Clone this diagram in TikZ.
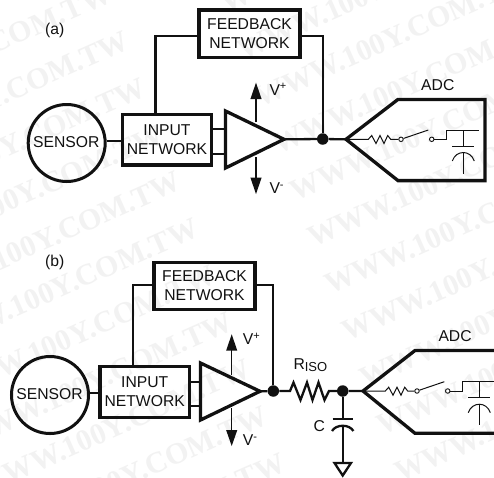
\documentclass[tikz,border=0pt]{standalone}
\usepackage{fontspec}
\setmainfont{Liberation Sans}
\newfontfamily\wmfont{Liberation Serif}
\definecolor{ink}{HTML}{111111}
\definecolor{wmgray}{HTML}{F2F2F2}
\tikzset{
  x=1pt,y=-1pt,
  thick box/.style={draw=ink,line width=3.3pt,fill=none,line join=miter},
  wire/.style={draw=ink,line width=2.3pt},
  thin wire/.style={draw=ink,line width=1pt},
  label text/.style={text=ink,font=\fontsize{15.7}{19}\selectfont,align=center,inner sep=0pt},
  sensor ring/.style={circle,draw=ink,line width=3pt,minimum size=77pt,inner sep=0pt},
  dotnode/.style={circle,fill=ink,inner sep=0pt,minimum size=11.5pt},
  hole/.style={circle,draw=ink,line width=0.9pt,fill=white,inner sep=0pt,minimum size=4.5pt},
  supply/.style={draw=ink,line width=1.5pt},
  head/.style={fill=ink,draw=none},
  wm/.style={text=wmgray,font=\wmfont\bfseries\fontsize{30}{30}\selectfont,rotate=24,inner sep=0pt},
}
\begin{document}
\begin{tikzpicture}
\useasboundingbox (0,0) rectangle (494,477);
\clip (0,0) rectangle (494,477);
\fill[white] (0,0) rectangle (494,477);
% watermark, two staggered columns
\foreach \k in {-2,...,10}{
  \node[wm,anchor=base east] (wmL\k) at ({131+17.4*\k},{48+46.9*\k}) {WWW.100Y.COM.TW};
}
\foreach \k in {-6,...,5}{
  \node[wm,anchor=base west] (wmR\k) at ({313+17.4*\k},{248+46.9*\k}) {WWW.100Y.COM.TW};
}
% ---------- (a)
\node[label text,anchor=base west] (tagA) at (45,34) {(a)};
\node[sensor ring] (sensorA) at (66.7,143) {};
\node[label text] (sensorTextA) at (66.3,142.5) {SENSOR};
\node[thick box,minimum width=89.5pt,minimum height=50.5pt,inner sep=0pt,label text] (inputA) at (167,139.7) {INPUT\\NETWORK};
\node[thick box,minimum width=101pt,minimum height=47.5pt,inner sep=0pt,label text] (fbA) at (249.5,33.7) {FEEDBACK\\NETWORK};
\coordinate (aL) at (225.5,111); \coordinate (aB) at (225.5,168); \coordinate (aT) at (284,139.3);
\node[dotnode] (dotA) at (322.7,139) {};
\coordinate (adcA) at (346,139.3);
\draw[wire] (sensorA.east |- 0,141.3) -- (inputA.west |- 0,141.3);
\draw[wire] (fbA.west |- 0,35.7) -| (155.5,114.5);
\draw[wire] (fbA.east |- 0,35.7) -| (dotA);
\draw[wire] (inputA.east |- 0,129.3) -- (aL |- 0,129.3);
\draw[wire] (inputA.east |- 0,154) -- (aL |- 0,154);
\draw[wire] (aT) -- (dotA) -- (adcA);
\draw[supply] (256,122) -- (256,98);
\draw[supply] (256,157) -- (256,179);
\fill[head] (256,82.7) -- (261.6,99) -- (250.4,99) -- cycle;
\fill[head] (256,194) -- (261.6,177.7) -- (250.4,177.7) -- cycle;
\draw[thick box] (aL) -- (aT) -- (aB) -- cycle;
\node[label text,anchor=base west] (vpA) at (269.3,95) {V\textsuperscript{+}};
\node[label text,anchor=base west] (vmA) at (269.3,193.3) {V\textsuperscript{-}};
\draw[thick box] (adcA) -- (398,99.4) -- (485,99.4) -- (485,180.6) -- (398,180.6) -- cycle;
\node[label text,anchor=base west] (adcLA) at (421,90) {ADC};
\node[hole] (h1A) at (401,139.3) {};
\node[hole] (h2A) at (431.7,139.3) {};
\draw[thin wire] (adcA) -- (368.3,139.3) -- (371.7,135.5) -- (376,143.5) -- (380,135.5) -- (384,143.5) -- (387.7,135.5) -- (390.7,139.3) -- (h1A);
\draw[thin wire] (h1A) -- (428.3,130);
\draw[thin wire] (h2A) -- (446.7,139.3) -- (446.7,130) -- (479,130);
\draw[thin wire] (463.3,130) -- (463.3,146);
\draw[thin wire] (452.3,146) -- (474.3,146);
\draw[thin wire] (452.3,161) .. controls (456,149.7) and (470.6,149.7) .. (474.3,161);
\draw[thin wire] (463.3,152.5) -- (463.3,173.5);
% ---------- (b)
\node[label text,anchor=base west] (tagB) at (45,266.5) {(b)};
\node[sensor ring] (sensorB) at (50,395) {};
\node[label text] (sensorTextB) at (49.5,394.3) {SENSOR};
\node[thick box,minimum width=89.5pt,minimum height=50.5pt,inner sep=0pt,label text] (inputB) at (144.7,392) {INPUT\\NETWORK};
\node[thick box,minimum width=101pt,minimum height=47.5pt,inner sep=0pt,label text] (fbB) at (204.5,286) {FEEDBACK\\NETWORK};
\coordinate (bL) at (200.5,363); \coordinate (bB) at (200.5,420); \coordinate (bT) at (260,391.3);
\node[dotnode] (dotB1) at (273.3,391) {};
\node[dotnode] (dotB2) at (342.7,391) {};
\coordinate (adcB) at (363,391);
\draw[wire] (sensorB.east |- 0,393.3) -- (inputB.west |- 0,393.3);
\draw[wire] (fbB.west |- 0,285.3) -| (133.3,366.7);
\draw[wire] (fbB.east |- 0,285.3) -| (dotB1);
\draw[wire] (inputB.east |- 0,381.7) -- (bL |- 0,381.7);
\draw[wire] (inputB.east |- 0,406) -- (bL |- 0,406);
\draw[wire] (bT) -- (dotB1) -- (290,391) -- (293.5,382.5) -- (300.5,400) -- (307,382.5) -- (312.5,400) -- (318.5,382.5) -- (324.5,400) -- (329,391) -- (dotB2) -- (adcB);
\draw[supply] (231.7,375) -- (231.7,350);
\draw[supply] (231.7,408) -- (231.7,431);
\fill[head] (231.7,334.3) -- (237.3,350.7) -- (226.1,350.7) -- cycle;
\fill[head] (231.7,446) -- (237.3,430) -- (226.1,430) -- cycle;
\draw[thick box] (bL) -- (bT) -- (bB) -- cycle;
\node[label text,anchor=base west] (vpB) at (242.7,344.5) {V\textsuperscript{+}};
\node[label text,anchor=base west] (vmB) at (242.7,445.7) {V\textsuperscript{-}};
\node[label text,anchor=base west] (riso) at (293.3,369.3) {R{\fontsize{13}{13}\selectfont\raisebox{-2.4pt}{ISO}}};
\node[label text,anchor=base west] (cap) at (313.3,431) {C};
\coordinate (gT) at (342.7,463);
\draw[wire] (dotB2) -- (342.7,419.3);
\draw[wire] (332.5,419.3) -- (353,419.3);
\draw[wire] (332,431) .. controls (336,424) and (349.4,424) .. (353.4,431);
\draw[wire] (342.7,426) -- (gT);
\draw[wire,line join=miter] (334.5,463) -- (351,463) -- (342.7,475.5) -- cycle;
\draw[thick box] (500,350.5) -- (415,350.5) -- (adcB) -- (415,433.3) -- (500,433.3);
\node[label text,anchor=base west] (adcLB) at (438.3,341.7) {ADC};
\node[hole] (h1B) at (417,391) {};
\node[hole] (h2B) at (447.7,391) {};
\draw[thin wire] (adcB) -- (385.3,391) -- (388.7,387.2) -- (393,395.2) -- (397,387.2) -- (401,395.2) -- (404.7,387.2) -- (407.7,391) -- (h1B);
\draw[thin wire] (h1B) -- (444.3,381.7);
\draw[thin wire] (h2B) -- (462.7,391) -- (462.7,381.7) -- (494,381.7);
\draw[thin wire] (479.3,381.7) -- (479.3,397.7);
\draw[thin wire] (468.3,397.7) -- (490.3,397.7);
\draw[thin wire] (468.3,412.7) .. controls (472,401.4) and (486.6,401.4) .. (490.3,412.7);
\draw[thin wire] (479.3,404.2) -- (479.3,425.2);
\end{tikzpicture}
\end{document}
